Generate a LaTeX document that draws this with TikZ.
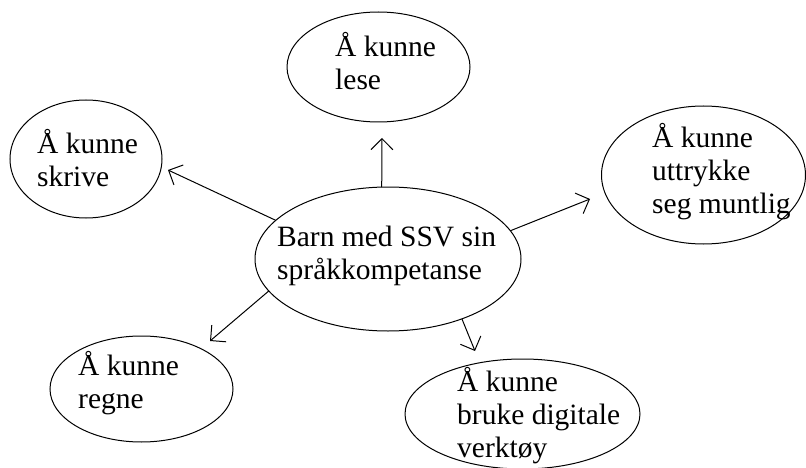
\documentclass[tikz,border=0pt]{standalone}
\usepackage{fontspec}
\setmainfont{Liberation Serif}
\usetikzlibrary{shapes.geometric,arrows.meta}
\begin{document}
\begin{tikzpicture}[x=1pt,y=-1pt,
  bubble/.style={draw,ellipse,line width=1pt,inner sep=0pt,outer sep=0pt},
  label text/.style={inner sep=0pt,anchor=base west,align=left,
    font=\fontsize{29.5}{33}\selectfont},
  link/.style={line width=1pt,-{Straight Barb[length=11pt,width=22pt,line width=1pt]}}]
  \useasboundingbox (0,0) rectangle (806,468);
  \clip (0,0) rectangle (806,468);

  % ellipses
  \node[bubble,minimum width=266pt,minimum height=144pt] (hub)   at (388,259)   {};
  \node[bubble,minimum width=183pt,minimum height=110pt] (lese)  at (378.5,67)  {};
  \node[bubble,minimum width=152pt,minimum height=118pt] (skrive) at (86,159)   {};
  \node[bubble,minimum width=204pt,minimum height=138pt] (munt)  at (703.5,175) {};
  \node[bubble,minimum width=183pt,minimum height=106pt] (regne) at (141.5,389) {};
  \node[bubble,minimum width=235pt,minimum height=110pt] (digi)  at (522.5,414) {};

  % texts, placed by the baseline of their last line
  \node[label text] (t-hub)    at (277,279) {Barn med SSV sin\\språkkompetanse};
  \node[label text] (t-lese)   at (335,90)  {Å kunne\\lese};
  \node[label text] (t-skrive) at (37,186)  {Å kunne\\skrive};
  \node[label text] (t-munt)   at (652,213) {Å kunne\\uttrykke\\seg muntlig};
  \node[label text] (t-regne)  at (78,408)  {Å kunne\\regne};
  \node[label text] (t-digi)   at (457,457) {Å kunne\\bruke digitale\\verktøy};

  % arrow tips
  \coordinate (p-lese)   at (382,138);
  \coordinate (p-skrive) at (168,170);
  \coordinate (p-munt)   at (590,199);
  \coordinate (p-regne)  at (210,341);
  \coordinate (p-digi)   at (475,351);

  % connectors
  \draw[link] (hub.95)  -- (p-lese);
  \draw[link] (hub.161) -- (p-skrive);
  \draw[link] (hub.13)  -- (p-munt);
  \draw[link] (hub.195) -- (p-regne);
  \draw[link] (hub.-39) -- (p-digi);
\end{tikzpicture}
\end{document}
